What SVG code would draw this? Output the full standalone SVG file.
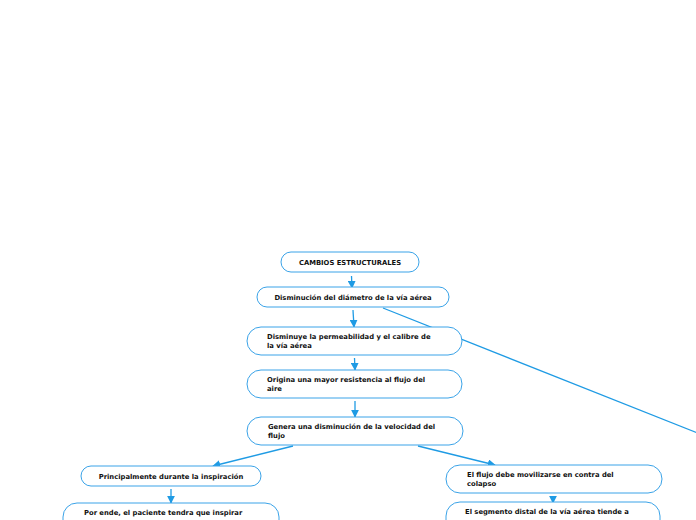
<svg xmlns="http://www.w3.org/2000/svg" width="696" height="520" viewBox="0 0 696 520">
<defs>
<marker id="ah" viewBox="0 0 10 10" refX="9" refY="5" markerWidth="8" markerHeight="8" markerUnits="userSpaceOnUse" orient="auto">
<path d="M0,0 L10,5 L0,10 z" fill="#1f9be4"/>
</marker>
</defs>
<style>
.n{fill:#fff;stroke:#3aa3e8;stroke-width:1}
.t{font-family:"DejaVu Sans",Verdana,sans-serif;font-size:6.8px;font-weight:bold;fill:#111}
.c{stroke:#1f9be4;stroke-width:1.3;fill:none}
.m{text-anchor:middle}
</style>
<rect width="696" height="520" fill="#fff"/>
<g id="connectors">
<line class="c" x1="383" y1="308" x2="700" y2="434"/>
<line class="c" x1="351.5" y1="276" x2="352" y2="288" marker-end="url(#ah)"/>
<line class="c" x1="353" y1="310" x2="354" y2="327" marker-end="url(#ah)"/>
<line class="c" x1="354.5" y1="358" x2="355" y2="370" marker-end="url(#ah)"/>
<line class="c" x1="355" y1="401" x2="355" y2="417" marker-end="url(#ah)"/>
<line class="c" x1="293" y1="446" x2="213" y2="466" marker-end="url(#ah)"/>
<line class="c" x1="418" y1="446" x2="495" y2="465" marker-end="url(#ah)"/>
<line class="c" x1="171" y1="489" x2="171" y2="503" marker-end="url(#ah)"/>
<line class="c" x1="553" y1="496" x2="553" y2="503" marker-end="url(#ah)"/>
</g>
<g id="n1"><rect class="n" x="281" y="252" width="138" height="20" rx="10"/><text class="t m" x="350" y="265">CAMBIOS ESTRUCTURALES</text></g>
<g id="n2"><rect class="n" x="257" y="287" width="192" height="20" rx="10"/><text class="t m" x="353" y="300">Disminución del diámetro de la vía aérea</text></g>
<g id="n3"><rect class="n" x="247" y="327" width="215" height="28" rx="14"/><text class="t" x="267" y="339">Disminuye la permeabilidad y el calibre de</text><text class="t" x="267" y="348">la vía aérea</text></g>
<g id="n4"><rect class="n" x="247" y="370" width="215" height="28" rx="14"/><text class="t" x="267" y="382">Origina una mayor resistencia al flujo del</text><text class="t" x="267" y="391">aire</text></g>
<g id="n5"><rect class="n" x="247" y="417" width="216" height="28" rx="14"/><text class="t" x="268" y="429">Genera una disminución de la velocidad del</text><text class="t" x="268" y="438">flujo</text></g>
<g id="n6"><rect class="n" x="81" y="466" width="180" height="20" rx="10"/><text class="t m" x="171" y="479">Principalmente durante la inspiración</text></g>
<g id="n7"><rect class="n" x="63" y="503" width="216" height="36" rx="14"/><text class="t" x="84" y="515">Por ende, el paciente tendra que inspirar</text></g>
<g id="n8"><rect class="n" x="446" y="465" width="216" height="28" rx="14"/><text class="t" x="467" y="477">El flujo debe movilizarse en contra del</text><text class="t" x="467" y="486">colapso</text></g>
<g id="n9"><rect class="n" x="446" y="502" width="214" height="36" rx="14"/><text class="t" x="465" y="514">El segmento distal de la vía aérea tiende a</text></g>
</svg>
